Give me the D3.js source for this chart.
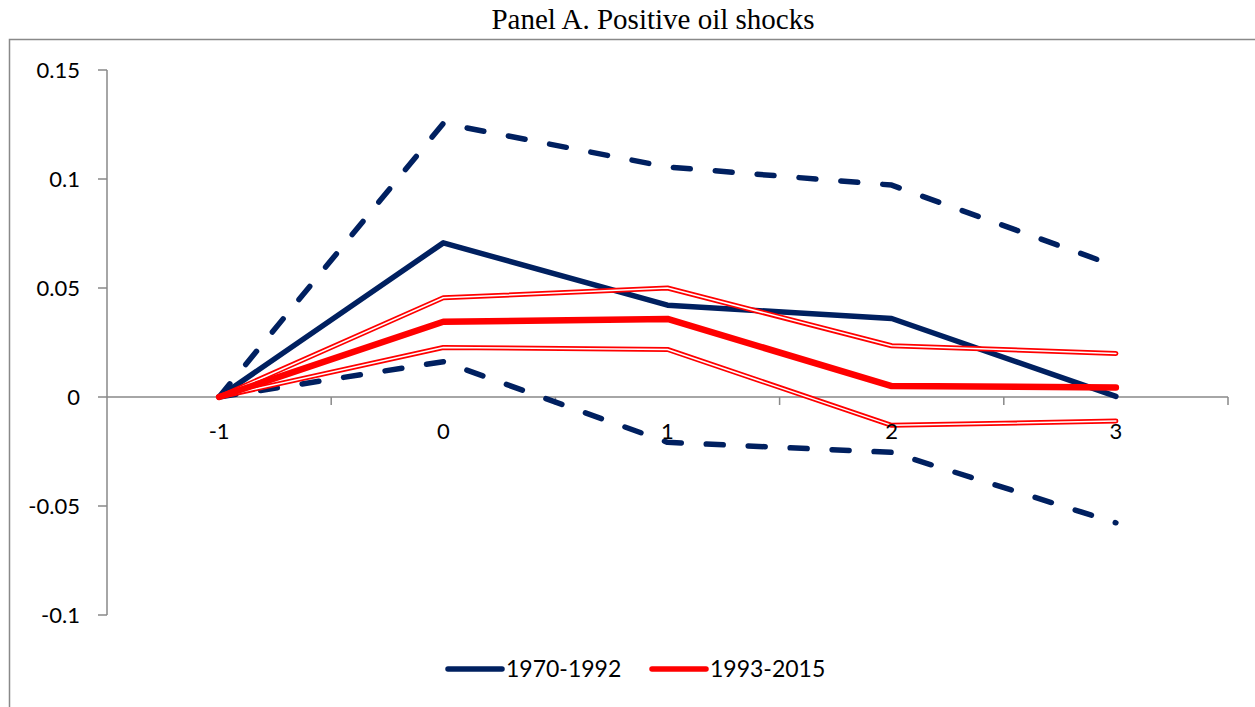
<!DOCTYPE html>
<html>
<head>
<meta charset="utf-8">
<title>Panel A. Positive oil shocks</title>
<script src="https://d3js.org/d3.v7.min.js"></script>
<style>
body { margin: 0; background: white; }
svg { display: block; }
.tick-label { font-family: "Lato", "Open Sans", sans-serif; font-size: 22px; fill: #000; }
.legend-label { font-family: "Lato", "Open Sans", sans-serif; font-size: 23px; fill: #000; }
</style>
</head>
<body>
<script>
// values
var categories = ["-1", "0", "1", "2", "3"];
var blueMid   = [0, 0.0707, 0.0421, 0.0360, 0.0003];
var blueUpper = [0, 0.1255, 0.1055, 0.0972, 0.0600];
var blueLower = [0, 0.0162, -0.0208, -0.0254, -0.0577];
var redMid    = [0, 0.0345, 0.0358, 0.0050, 0.0044];
var redUpper  = [0, 0.0455, 0.0500, 0.0235, 0.0200];
var redLower  = [0, 0.0227, 0.0218, -0.0130, -0.0110];
var yTicks = [-0.1, -0.05, 0, 0.05, 0.1, 0.15];
var yTickLabels = ["-0.1", "-0.05", "0", "0.05", "0.1", "0.15"];
var legendNames = ["1970-1992", "1993-2015"];

var width = 1255, height = 707;
var blue = "#002060", red = "#ff0000", axisGrey = "#898989";

var svg = d3.select("body").append("svg")
  .attr("width", width)
  .attr("height", height);

// outer frame
svg.append("rect")
  .attr("x", 9.5).attr("y", 39.5)
  .attr("width", 1260).attr("height", 700)
  .attr("fill", "none")
  .attr("stroke", axisGrey)
  .attr("stroke-width", 1.5);

svg.append("text")
  .attr("x", 653).attr("y", 29)
  .attr("text-anchor", "middle")
  .style("font-family", "'Liberation Serif', 'Times New Roman', serif")
  .style("font-size", "29px")
  .text("Panel A. Positive oil shocks");

var left = 107, right = 1228;
var x = d3.scalePoint().domain(categories).range([left, right]).padding(0.5);
var band = d3.scaleBand().domain(categories).range([left, right]);
var y = d3.scaleLinear().domain([-0.1, 0.15]).range([615, 70]);

// y axis
var yAxis = svg.append("g");
yAxis.append("line")
  .attr("x1", left).attr("x2", left)
  .attr("y1", y(0.15)).attr("y2", y(-0.1))
  .attr("stroke", axisGrey).attr("stroke-width", 1.5);
yAxis.selectAll(".ytick").data(yTicks).enter().append("line")
  .attr("x1", left - 9).attr("x2", left)
  .attr("y1", function(d) { return y(d); })
  .attr("y2", function(d) { return y(d); })
  .attr("stroke", axisGrey).attr("stroke-width", 1.5);
yAxis.selectAll(".ylab").data(yTicks).enter().append("text")
  .attr("class", "tick-label")
  .attr("x", 80)
  .attr("y", function(d) { return y(d); })
  .attr("dy", "0.36em")
  .attr("text-anchor", "end")
  .text(function(d, i) { return yTickLabels[i]; });

// x axis at zero
var xAxis = svg.append("g");
xAxis.append("line")
  .attr("x1", left).attr("x2", right)
  .attr("y1", y(0)).attr("y2", y(0))
  .attr("stroke", axisGrey).attr("stroke-width", 1.5);
var bounds = categories.map(function(c) { return band(c) + band.bandwidth(); });
xAxis.selectAll(".xtick").data(bounds).enter().append("line")
  .attr("x1", function(d) { return d; })
  .attr("x2", function(d) { return d; })
  .attr("y1", y(0)).attr("y2", y(0) + 8)
  .attr("stroke", axisGrey).attr("stroke-width", 1.5);

var line = d3.line()
  .x(function(d, i) { return x(categories[i]); })
  .y(function(d) { return y(d); });

var lines = svg.append("g")
  .attr("fill", "none")
  .attr("stroke-linecap", "round")
  .attr("stroke-linejoin", "round");

// 1970-1992: dashed bands and solid estimate
[blueUpper, blueLower].forEach(function(s) {
  lines.append("path").attr("d", line(s))
    .attr("stroke", blue).attr("stroke-width", 5.5)
    .attr("stroke-dasharray", "17,25");
});
lines.append("path").attr("d", line(blueMid))
  .attr("stroke", blue).attr("stroke-width", 5.5);

// 1993-2015: double-line bands and thick estimate
[redUpper, redLower].forEach(function(s) {
  lines.append("path").attr("d", line(s))
    .attr("stroke", red).attr("stroke-width", 5);
  lines.append("path").attr("d", line(s))
    .attr("stroke", "#fff").attr("stroke-width", 1.5);
});
lines.append("path").attr("d", line(redMid))
  .attr("stroke", red).attr("stroke-width", 6.5);

// x labels on top
svg.append("g").selectAll("text").data(categories).enter().append("text")
  .attr("class", "tick-label")
  .attr("x", function(d) { return x(d); })
  .attr("y", 439)
  .attr("text-anchor", "middle")
  .text(function(d) { return d; });

// legend
var legend = svg.append("g");
var legendX = [448, 652];
var legendColors = [blue, red];
legendNames.forEach(function(name, i) {
  legend.append("line")
    .attr("x1", legendX[i]).attr("x2", legendX[i] + 54)
    .attr("y1", 669).attr("y2", 669)
    .attr("stroke", legendColors[i]).attr("stroke-width", 5.5)
    .attr("stroke-linecap", "round");
  legend.append("text")
    .attr("class", "legend-label")
    .attr("x", legendX[i] + 58).attr("y", 677)
    .text(name);
});
</script>
</body>
</html>
